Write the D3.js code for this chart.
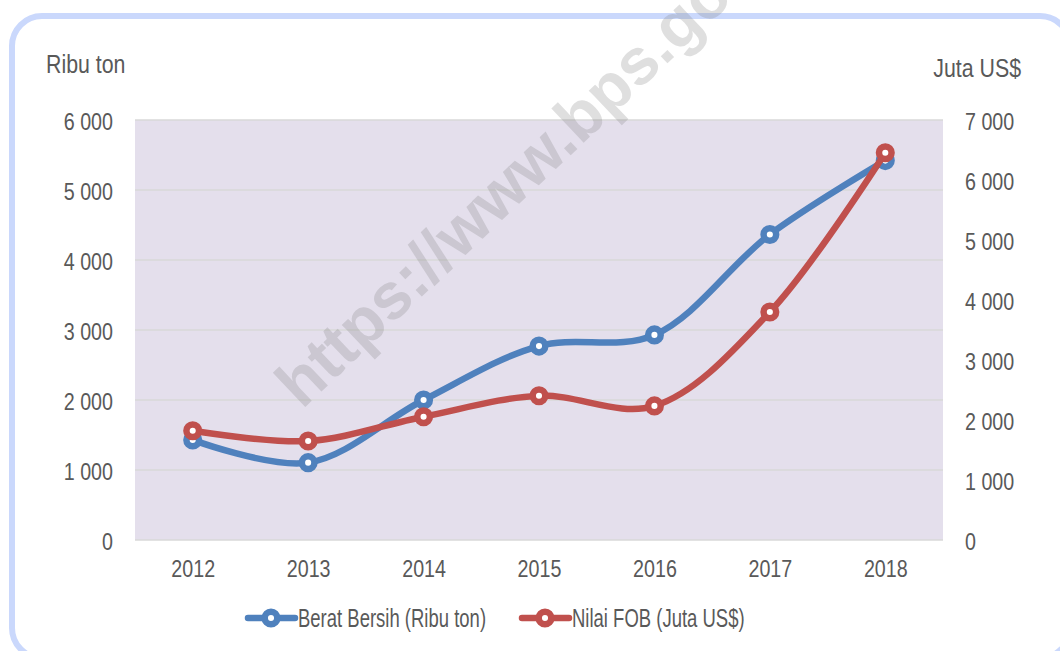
<!DOCTYPE html>
<html>
<head>
<meta charset="utf-8">
<script src="https://cdn.jsdelivr.net/npm/d3@7"></script>
<style>
  body { margin: 0; background: #fff; }
  svg { display: block; }
  text { font-family: "Liberation Sans", Arial, sans-serif; fill: #595959; }
</style>
</head>
<body>
<svg id="chart" width="1060" height="651"></svg>
<script>
// chart data
const years = ["2012", "2013", "2014", "2015", "2016", "2017", "2018"];
const beratBersih = [1430, 1105, 2000, 2770, 2930, 4365, 5420];   // Ribu ton (left axis)
const nilaiFOB = [1820, 1650, 2055, 2405, 2235, 3800, 6455];      // Juta US$ (right axis)
const leftTicks = [0, 1000, 2000, 3000, 4000, 5000, 6000];
const rightTicks = [0, 1000, 2000, 3000, 4000, 5000, 6000, 7000];
const seriesNames = ["Berat Bersih (Ribu ton)", "Nilai FOB (Juta US$)"];

const svg = d3.select("#chart");
const plot = {left: 135, right: 943, top: 120, bottom: 540};
const blue = "#4f81bd", red = "#c0504d";

const fmt = d3.formatLocale({decimal: ",", thousands: " ", grouping: [3], currency: ["", ""]}).format(",");

// the original lettering is narrow, squeeze the glyphs horizontally
function squeeze(sel, k) {
  sel.each(function () {
    const w = this.getComputedTextLength();
    d3.select(this).attr("textLength", w * k).attr("lengthAdjust", "spacingAndGlyphs");
  });
}

// outer rounded frame
svg.append("rect")
  .attr("x", 12).attr("y", 16)
  .attr("width", 1058).attr("height", 642)
  .attr("rx", 30)
  .attr("fill", "none")
  .attr("stroke", "#cad8fc")
  .attr("stroke-width", 6);

// scales
const x = d3.scalePoint().domain(years).range([plot.left, plot.right]).padding(0.5);
const yL = d3.scaleLinear().domain([0, 6000]).range([plot.bottom, plot.top]);
const yR = d3.scaleLinear().domain([0, 7000]).range([plot.bottom, plot.top]);

// plot background
svg.append("rect")
  .attr("x", plot.left).attr("y", plot.top)
  .attr("width", plot.right - plot.left).attr("height", plot.bottom - plot.top)
  .attr("fill", "#e4dfec");

// gridlines
svg.append("g").selectAll("line")
  .data(leftTicks)
  .join("line")
  .attr("x1", plot.left).attr("x2", plot.right)
  .attr("y1", d => yL(d)).attr("y2", d => yL(d))
  .attr("stroke", "#d9d9d9")
  .attr("stroke-width", 1.5);

// watermark
svg.append("text")
  .attr("transform", "translate(302,410) rotate(-43.5)")
  .attr("font-size", 65)
  .attr("font-weight", "bold")
  .style("fill", "rgba(128,128,128,0.25)")
  .text("https://www.bps.go.id");

// axes
const axisL = svg.append("g")
  .attr("transform", `translate(${plot.left},0)`)
  .call(d3.axisLeft(yL).tickValues(leftTicks).tickSize(0).tickPadding(22).tickFormat(fmt));
const axisR = svg.append("g")
  .attr("transform", `translate(${plot.right},0)`)
  .call(d3.axisRight(yR).tickValues(rightTicks).tickSize(0).tickPadding(22).tickFormat(fmt));
const axisB = svg.append("g")
  .attr("transform", `translate(0,${plot.bottom})`)
  .call(d3.axisBottom(x).tickSize(0).tickPadding(20));

[axisL, axisR, axisB].forEach(g => {
  g.select(".domain").remove();
  g.selectAll("text")
    .attr("font-size", 24)
    .attr("font-family", null)
    .attr("fill", "#595959")
    .call(squeeze, 0.82);
});
axisL.selectAll("text").attr("dy", "0.38em");
axisR.selectAll("text").attr("dy", "0.38em");

// axis titles
svg.append("text").attr("x", 46).attr("y", 73).attr("font-size", 26)
  .text("Ribu ton").call(squeeze, 0.82);
svg.append("text").attr("x", 1021).attr("y", 77).attr("font-size", 26)
  .attr("text-anchor", "end").text("Juta US$").call(squeeze, 0.82);

// series
const series = [
  {name: seriesNames[0], values: beratBersih, scale: yL, color: blue},
  {name: seriesNames[1], values: nilaiFOB, scale: yR, color: red}
];

series.forEach(s => {
  const line = d3.line()
    .x((d, i) => x(years[i]))
    .y(d => s.scale(d))
    .curve(d3.curveCatmullRom.alpha(0.5));

  svg.append("path")
    .attr("d", line(s.values))
    .attr("fill", "none")
    .attr("stroke", s.color)
    .attr("stroke-width", 6.5)
    .attr("stroke-linecap", "round");

  svg.append("g").selectAll("circle")
    .data(s.values)
    .join("circle")
    .attr("cx", (d, i) => x(years[i]))
    .attr("cy", d => s.scale(d))
    .attr("r", 6.3)
    .attr("fill", "#fff")
    .attr("stroke", s.color)
    .attr("stroke-width", 6.5);
});

// legend
const legendX = [248, 522];
series.forEach((s, i) => {
  const g = svg.append("g").attr("transform", `translate(${legendX[i]},618)`);
  g.append("line")
    .attr("x1", 0).attr("x2", 47)
    .attr("stroke", s.color).attr("stroke-width", 6.5).attr("stroke-linecap", "round");
  g.append("circle")
    .attr("cx", 23).attr("r", 6.3)
    .attr("fill", "#fff").attr("stroke", s.color).attr("stroke-width", 6.5);
  g.append("text")
    .attr("x", 50).attr("y", 9)
    .attr("font-size", 25.5)
    .text(s.name)
    .call(squeeze, 0.725);
});
</script>
</body>
</html>
